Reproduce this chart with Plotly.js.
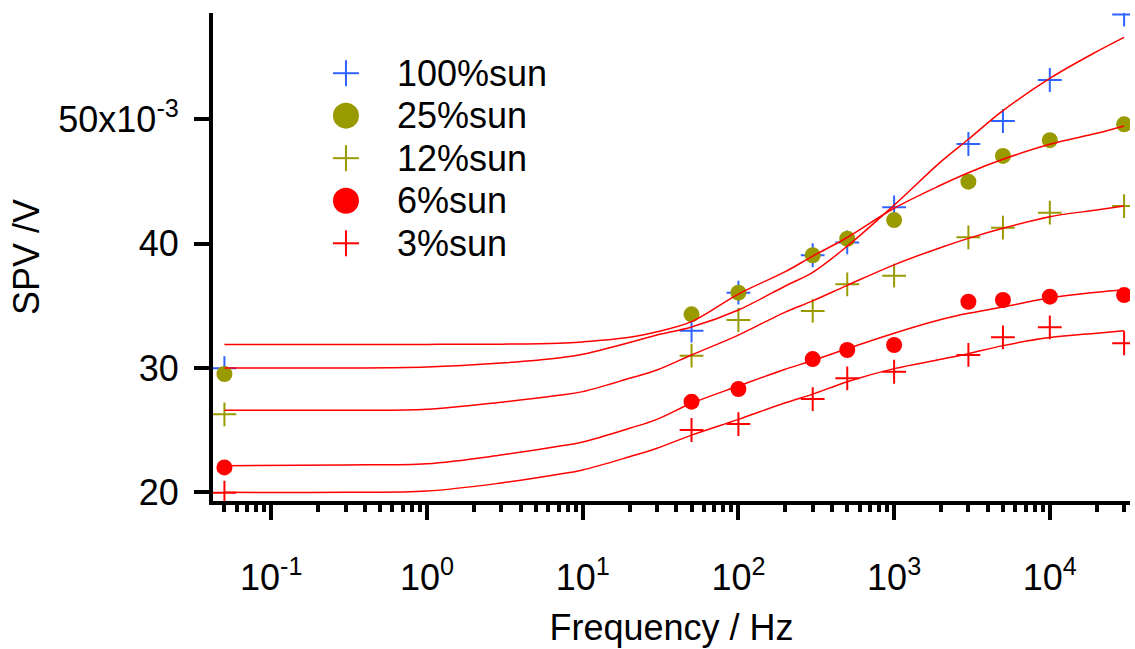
<!DOCTYPE html>
<html>
<head>
<meta charset="utf-8">
<script src="https://cdn.plot.ly/plotly-3.0.1.min.js"></script>
<style>
  html, body { margin: 0; padding: 0; background: #ffffff; }
  #chart { width: 1135px; height: 649px; }
</style>
</head>
<body>
<div id="chart"></div>
<script>
// ---- data (SPV in mV, frequency in Hz) ----
const seriesNames = ['100%sun', '25%sun', '12%sun', '6%sun', '3%sun'];
const freq = [0.05, 50, 100, 300, 500, 1000, 3000, 5000, 10000, 30000];
const sun100 = [29.98, 33.0, 36.06, 39.07, 40.1, 42.93, 48.02, 49.87, 53.17, 58.44];
const sun25  = [29.52, 34.32, 36.06, 39.07, 40.4, 41.9, 44.99, 47.06, 48.33, 49.6];
const sun12  = [26.27, 30.99, 33.86, 34.59, 36.73, 37.43, 40.51, 41.29, 42.5, 43.03];
const sun6   = [22.0, 27.29, 28.31, 30.72, 31.45, 31.85, 35.33, 35.47, 35.74, 35.87];
const sun3   = [19.97, 25.01, 25.49, 27.5, 29.17, 29.7, 31.05, 32.47, 33.27, 31.99];

// fitted curves
const fitFreq = [0.05, 0.3, 1, 3, 7, 10, 20, 30, 50, 100, 200, 300, 500, 1000, 2000, 3000, 5000, 10000, 20000, 30000];
const fit100 = [30.0, 30.0, 30.08, 30.4, 30.8, 31.1, 32.05, 32.65, 33.3, 34.67, 36.6, 37.7, 39.8, 43.1, 46.6, 48.4, 50.7, 53.3, 55.45, 56.6];
const fit25  = [31.9, 31.9, 31.9, 31.92, 31.99, 32.1, 32.47, 32.92, 33.73, 35.95, 37.75, 39.0, 40.5, 42.85, 44.72, 45.71, 46.79, 48.0, 48.88, 49.47];
const fit12  = [26.6, 26.6, 26.68, 27.25, 27.8, 28.1, 29.17, 29.84, 31.05, 32.65, 34.5, 35.4, 36.65, 38.3, 39.7, 40.43, 41.24, 42.17, 42.71, 43.03];
const fit6   = [22.14, 22.2, 22.3, 23.0, 23.7, 24.05, 25.15, 25.87, 27.16, 28.55, 29.9, 30.6, 31.55, 32.8, 33.9, 34.4, 34.9, 35.65, 36.1, 36.3];
const fit3   = [20.0, 20.0, 20.1, 20.75, 21.45, 21.8, 22.86, 23.54, 24.6, 25.87, 27.2, 27.9, 28.9, 29.95, 30.7, 31.15, 31.8, 32.45, 32.8, 33.0];

const xTickVals = [0.1, 1, 10, 100, 1000, 10000];
const xTickText = ['10<sup>-1</sup>', '10<sup>0</sup>', '10<sup>1</sup>', '10<sup>2</sup>', '10<sup>3</sup>', '10<sup>4</sup>'];
const yTickVals = [0.02, 0.03, 0.04, 0.05];
const yTickText = ['20', '30', '40', '50x10<sup>-3</sup>'];

// ---- styles ----
const BLUE = '#2f63ff';
const OLIVE = '#999900';
const RED = '#ff0000';
const FONT = 'Liberation Sans, Arial, sans-serif';

const mV = a => a.map(v => v / 1000);

const seriesData = [sun100, sun25, sun12, sun6, sun3];
const seriesStyle = [
  { symbol: 'cross-thin', color: BLUE },
  { symbol: 'circle', color: OLIVE },
  { symbol: 'cross-thin', color: OLIVE },
  { symbol: 'circle', color: RED },
  { symbol: 'cross-thin', color: RED }
];

const traces = [];
seriesData.forEach((ys, i) => {
  const st = seriesStyle[i];
  const isCross = st.symbol === 'cross-thin';
  traces.push({
    type: 'scatter', mode: 'markers', name: seriesNames[i],
    x: freq, y: mV(ys), showlegend: false,
    marker: isCross
      ? { symbol: 'cross-thin', size: 17, color: st.color, line: { color: st.color, width: 2 } }
      : { symbol: 'circle', size: 16, color: st.color, line: { width: 0 } }
  });
});
[fit100, fit25, fit12, fit6, fit3].forEach((ys, i) => {
  traces.push({
    type: 'scatter', mode: 'lines', name: 'fit ' + seriesNames[i],
    x: fitFreq, y: mV(ys), showlegend: false,
    line: { color: RED, width: 1.5, shape: 'spline', smoothing: 1.0 }
  });
});

// ---- custom legend (large symbols) ----
const legX = 0.145, legTextX = 0.1985;
const legRows = [0.8766, 0.7897, 0.7025, 0.6154, 0.5281];
const shapes = [];
const annotations = [];
seriesNames.forEach((name, i) => {
  const st = seriesStyle[i];
  const base = { xref: 'paper', yref: 'paper', xsizemode: 'pixel', ysizemode: 'pixel',
                 xanchor: legX, yanchor: legRows[i] };
  if (st.symbol === 'circle') {
    shapes.push(Object.assign({}, base, { type: 'circle', x0: -13, x1: 13, y0: -13, y1: 13,
      fillcolor: st.color, line: { width: 0 } }));
  } else {
    shapes.push(Object.assign({}, base, { type: 'line', x0: -13, x1: 13, y0: 0, y1: 0,
      line: { color: st.color, width: 2 } }));
    shapes.push(Object.assign({}, base, { type: 'line', x0: 0, x1: 0, y0: -13, y1: 13,
      line: { color: st.color, width: 2 } }));
  }
  annotations.push({
    xref: 'paper', yref: 'paper', x: legTextX, y: legRows[i],
    xanchor: 'left', yanchor: 'middle', showarrow: false,
    text: name, font: { family: FONT, size: 36, color: '#000000' }
  });
});

const layout = {
  width: 1135, height: 649,
  margin: { l: 213, r: 5, t: 13, b: 148, pad: 0 },
  paper_bgcolor: '#ffffff', plot_bgcolor: '#ffffff',
  showlegend: false,
  font: { family: FONT, size: 36, color: '#000000' },
  xaxis: {
    type: 'log', range: [-1.3744, 4.515],
    showline: true, linecolor: '#000000', linewidth: 4, mirror: false,
    showgrid: false, zeroline: false,
    ticks: 'outside', ticklen: 15, tickwidth: 4, tickcolor: '#000000',
    tickvals: xTickVals, ticktext: xTickText,
    tickfont: { family: FONT, size: 36, color: '#000000' },
    ticklabelstandoff: 27,
    minor: { ticks: 'outside', dtick: 'D1', ticklen: 7, tickwidth: 4, tickcolor: '#000000', showgrid: false },
    title: { text: 'Frequency / Hz', font: { family: FONT, size: 36, color: '#000000' }, standoff: 19 }
  },
  yaxis: {
    range: [0.01930, 0.05856],
    showline: true, linecolor: '#000000', linewidth: 4, mirror: false,
    showgrid: false, zeroline: false,
    ticks: 'outside', ticklen: 15, tickwidth: 4, tickcolor: '#000000',
    tickvals: yTickVals, ticktext: yTickText,
    tickfont: { family: FONT, size: 36, color: '#000000' },
    ticklabelstandoff: 8,
    title: { text: 'SPV /V', font: { family: FONT, size: 36, color: '#000000' }, standoff: 9 }
  },
  shapes: shapes,
  annotations: annotations
};

Plotly.newPlot('chart', traces, layout, { staticPlot: true, displayModeBar: false });
</script>
</body>
</html>
